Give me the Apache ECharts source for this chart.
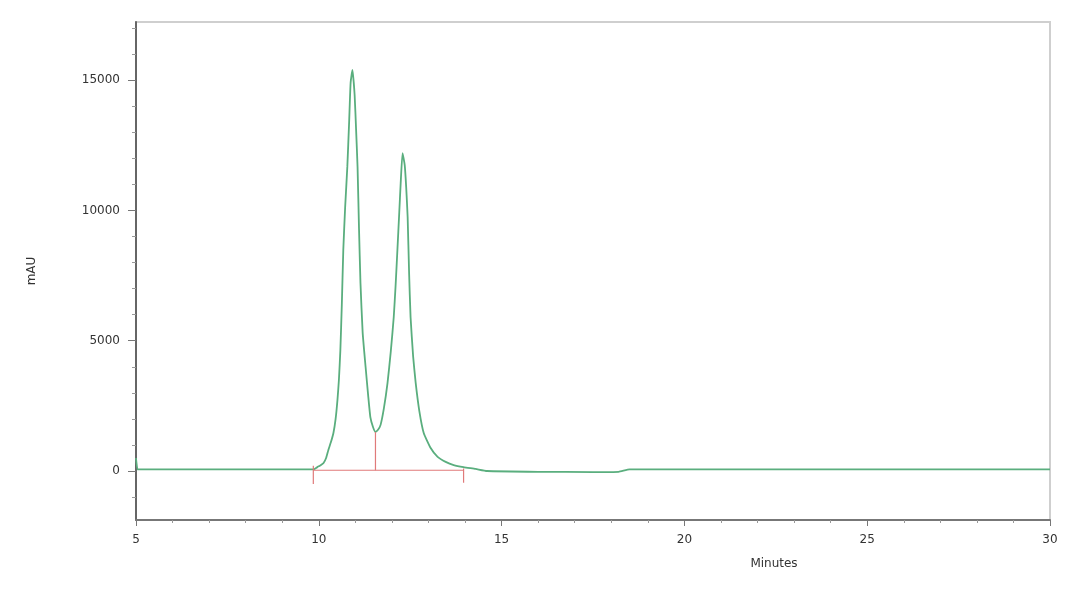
<!DOCTYPE html>
<html>
<head>
<meta charset="utf-8">
<script src="https://cdn.jsdelivr.net/npm/echarts@6/dist/echarts.min.js"></script>
<style>
    html, body { margin: 0; padding: 0; background: #fff; }
    #chart { width: 1080px; height: 596px; }
</style>
</head>
<body>
<div id="chart"></div>
<script>
"use strict"

// 色谱数据
let times = [5.0, 5.04, 5.1, 6, 8, 9.5, 9.85, 9.96, 10.05, 10.13, 10.20, 10.26, 10.33, 10.40, 10.46, 10.51, 10.55,
    10.59, 10.63, 10.67, 10.72, 10.78, 10.83, 10.87, 10.92, 10.98, 11.02, 11.06, 11.10, 11.14, 11.20, 11.28,
    11.35, 11.41, 11.48, 11.55, 11.62, 11.69, 11.78, 11.88, 11.97, 12.05, 12.10, 12.15, 12.20, 12.24, 12.29,
    12.35, 12.39, 12.43, 12.47, 12.51, 12.58, 12.65, 12.75, 12.87, 13.06, 13.25, 13.47, 13.69, 13.96, 14.29,
    14.6, 16, 17.5, 18.2, 18.5, 20, 25, 30];
let signal = [500, 60, 60, 60, 60, 60, 60, 150, 220, 310, 500, 800, 1100, 1460, 2000, 2720, 3500,
    4640, 6400, 8480, 10100, 11670, 13400, 14890, 15390, 14430, 13100, 11670, 9300, 7210, 5300, 3990,
    2900, 2070, 1700, 1500, 1580, 1770, 2400, 3380, 4600, 5910, 7100, 8480, 9900, 11050, 12200,
    11740, 10900, 9750, 7600, 5910, 4400, 3380, 2300, 1460, 880, 540, 350, 230, 150, 80,
    0, -30, -40, -30, 60, 60, 60, 60];

// 积分标记
let intBaseline = [[9.85, 30], [13.96, 30]];
let valleyDrop = [[11.55, 30], [11.55, 1500]];
let startMark = [[9.85, 200], [9.85, -500]];
let endMark = [[13.96, 100], [13.96, -450]];

// 刻度
let yLabels = [0, 5000, 10000, 15000];
let yMinor = [-1000, 1000, 2000, 3000, 4000, 6000, 7000, 8000, 9000, 11000, 12000, 13000, 14000, 16000, 17000];

let font = "DejaVu Sans";
let myChart = echarts.init(document.getElementById("chart"));

function redLine(data) {
    return {
        type: "line",
        data: data,
        showSymbol: false,
        silent: true,
        lineStyle: { color: "#e07a7a", width: 1.2 },
        z: 3
    };
}

let option = {
    animation: false,
    grid: {
        left: 136,
        right: 30,
        top: 22,
        bottom: 76,
        show: true,
        borderColor: "#cfcfcf",
        borderWidth: 2
    },
    xAxis: {
        type: "value",
        min: 5,
        max: 30,
        interval: 5,
        name: "Minutes",
        nameLocation: "middle",
        nameGap: 38,
        nameTextStyle: { fontFamily: font, fontSize: 12, color: "#333", padding: [0, 0, 0, 362] },
        axisLine: { show: true, onZero: false, lineStyle: { color: "#777", width: 2 } },
        axisTick: { show: true, length: 6, lineStyle: { color: "#777" } },
        minorTick: { show: true, splitNumber: 5, length: 3, lineStyle: { color: "#999" } },
        axisLabel: { fontFamily: font, fontSize: 12, color: "#333", margin: 14 },
        splitLine: { show: false }
    },
    yAxis: [{
        type: "value",
        min: -1880,
        max: 17230,
        name: "mAU",
        nameLocation: "middle",
        nameGap: 98,
        nameTextStyle: { fontFamily: font, fontSize: 12, color: "#333" },
        axisLine: { show: true, onZero: false, lineStyle: { color: "#666", width: 2 } },
        axisTick: { show: true, length: 8, customValues: yLabels, lineStyle: { color: "#777" } },
        axisLabel: {
            fontFamily: font, fontSize: 12, color: "#333", margin: 16, customValues: yLabels,
            formatter: v => String(v)
        },
        splitLine: { show: false }
    }, {
        // 次刻度
        type: "value",
        position: "left",
        min: -1880,
        max: 17230,
        axisLine: { show: false },
        axisTick: { show: true, length: 4, customValues: yMinor, lineStyle: { color: "#999" } },
        axisLabel: { show: false },
        splitLine: { show: false }
    }],
    series: [{
        type: "line",
        data: times.map((t, i) => [t, signal[i]]),
        showSymbol: false,
        smooth: 0.15,
        lineStyle: { color: "#5aae7e", width: 1.8 },
        z: 2
    },
        redLine(intBaseline),
        redLine(valleyDrop),
        redLine(startMark),
        redLine(endMark)
    ]
};

myChart.setOption(option);
</script>
</body>
</html>
